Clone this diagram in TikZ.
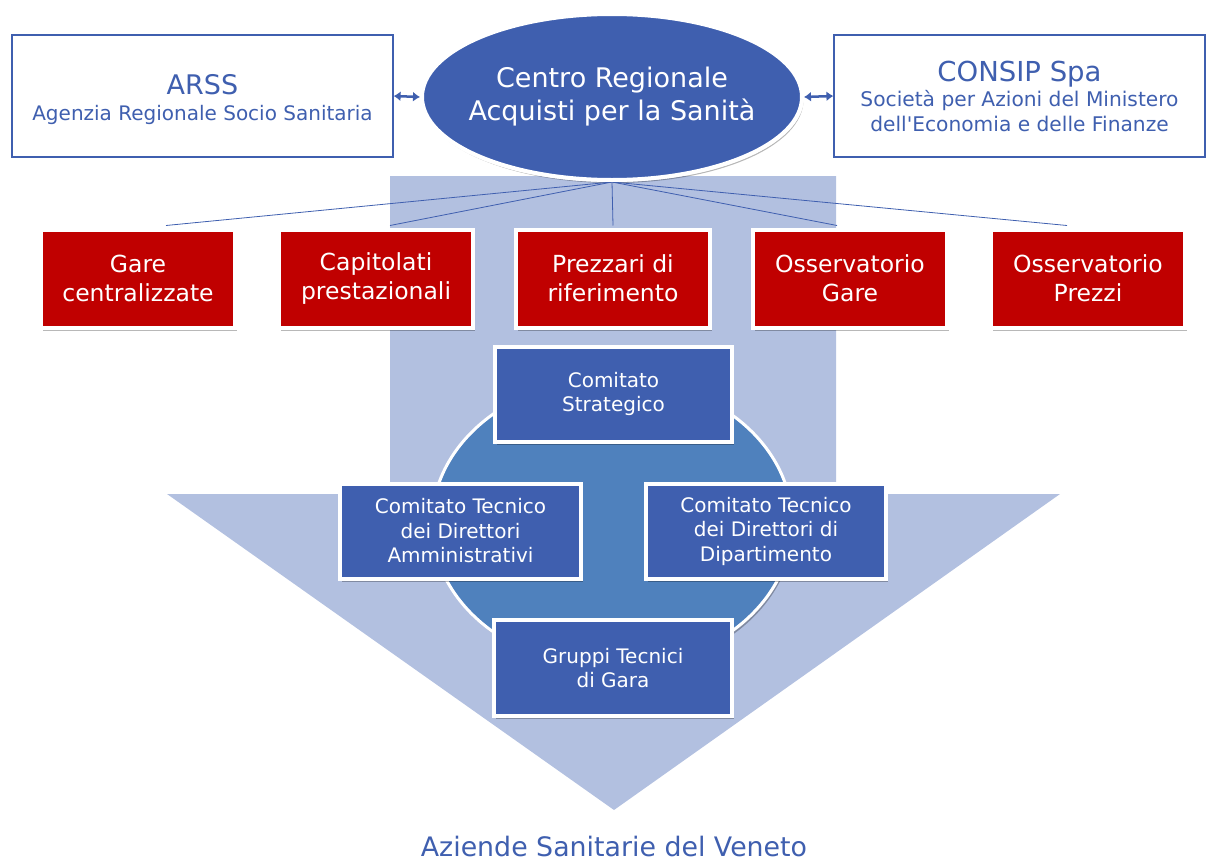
\documentclass[tikz,border=0pt]{standalone}
\usepackage{fontspec}
\setmainfont{DejaVu Sans}
\newfontfamily\nolig{DejaVu Sans}
\usetikzlibrary{shapes.geometric,shadows,arrows.meta}
\definecolor{dblue}{HTML}{3F5FAF}
\definecolor{lblue}{HTML}{B2C0E0}
\definecolor{mblue}{HTML}{4F81BD}
\definecolor{dred}{HTML}{C00000}
\definecolor{tblue}{HTML}{3F5FAF}
\begin{document}
\begin{tikzpicture}[x=1pt,y=-1pt,
  shad/.style={drop shadow={shadow xshift=1.5pt, shadow yshift=-3pt, opacity=0.28, fill=black}},
  redbox/.style={rectangle, fill=dred, draw=white, line width=4pt, minimum width=194pt, minimum height=98pt, inner sep=0pt, text=white, align=center, font=\fontsize{23.5}{29}\selectfont, shad},
  bluebox/.style={rectangle, fill=dblue, draw=white, line width=4pt, minimum width=237pt, minimum height=95pt, inner sep=0pt, text=white, align=center, font=\fontsize{20}{24.5}\selectfont, shad},
  infobox/.style={rectangle, draw=dblue, line width=1.2pt, fill=white, minimum height=122pt, inner sep=0pt, text=tblue, align=center},
  bigell/.style={ellipse, fill=dblue, draw=white, line width=4pt, minimum width=380pt, minimum height=166pt, inner sep=0pt},
  conn/.style={draw=dblue, line width=0.8pt},
  dbl/.style={draw=dblue, line width=2.5pt, {Latex[length=7pt,width=10pt]}-{Latex[length=7pt,width=10pt]}}
]
\useasboundingbox (0,0) rectangle (1206,862);
% big light-blue arrow
\fill[lblue] (390,176) -- (836,176) -- (836,494) -- (1060,494) -- (614,810) -- (167,494) -- (390,494) -- cycle;

% info boxes
\node[infobox, minimum width=381pt, font=\fontsize{20}{26}\selectfont] (arss) at (202.5,96) {{\fontsize{27}{26}\selectfont\rule{0pt}{28pt}ARSS}\\Agenzia Regionale Socio Sanitaria};
\node[infobox, minimum width=371pt, font=\fontsize{20.2}{25}\selectfont] (consip) at (1019.5,96) {{\fontsize{27.5}{25}\selectfont CONSIP Spa}\\Società per Azioni del Ministero\\dell{\nolig '}Economia e delle Finanze};

% central ellipse (shadow)
\node[bigell, shad] (top) at (612,97) {};

% red boxes
\node[redbox] (r1) at (138,278.5) {Gare\\centralizzate};
\node[redbox] (r2) at (376,278.5) {Capitolati\\prestazionali};
\node[redbox] (r3) at (613,278.5) {Prezzari di\\riferimento};
\node[redbox] (r4) at (850,278.5) {Osservatorio\\Gare};
\node[redbox] (r5) at (1088,278.5) {Osservatorio\\Prezzi};

% connectors
\draw[conn] (top.south) -- ([xshift=28pt,yshift=2pt]r1.north);
\draw[conn] (top.south) -- ([xshift=14pt,yshift=2pt]r2.north);
\draw[conn] (top.south) -- ([yshift=2pt]r3.north);
\draw[conn] (top.south) -- ([xshift=-13pt,yshift=2pt]r4.north);
\draw[conn] (top.south) -- ([xshift=-21pt,yshift=2pt]r5.north);

% ellipse redrawn over connector starts, with its text
\node[bigell] (topc) at (612,97) {};
\node[text=white, align=center, font=\fontsize{27}{33}\selectfont, inner sep=0pt] (toptext) at (top.center) {Centro Regionale\\Acquisti per la Sanità};

\draw[dbl] (arss.east) -- (top.west);
\draw[dbl] (top.east) -- (consip.west);

% committee circle
\node[ellipse, fill=mblue, draw=white, line width=3pt, minimum width=360pt, minimum height=290pt, inner sep=0pt, shad] (circ) at (612,523) {};

% blue boxes
\node[bluebox] (cs) at (613.5,394) {Comitato\\Strategico};
\node[bluebox, minimum width=241pt] (cta) at (460.5,531) {Comitato Tecnico\\dei Direttori\\Amministrativi};
\node[bluebox, minimum width=240pt] (ctd) at (766,531) {Comitato Tecnico\\dei Direttori di\\Dipartimento};
\node[bluebox, minimum width=238pt, minimum height=96pt] (gt) at (613,668) {Gruppi Tecnici\\di Gara};

% bottom label
\node[text=tblue, font=\fontsize{26.8}{30}\selectfont, anchor=base, inner sep=0pt] (az) at (614,856) {Aziende Sanitarie del Veneto};
\end{tikzpicture}
\end{document}
